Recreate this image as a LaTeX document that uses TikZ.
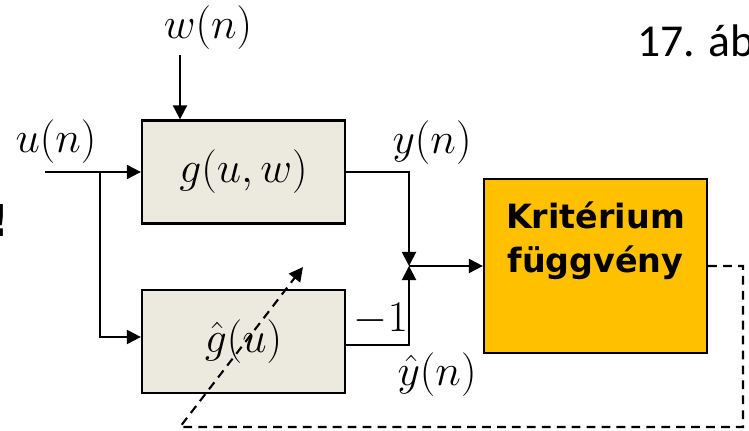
\documentclass[tikz,border=0pt]{standalone}
\usepackage{amsmath}
\usepackage{fontspec}
\newfontfamily\kritfont{DejaVu Sans}
\newfontfamily\capfont{Carlito}
\usetikzlibrary{arrows.meta, positioning}
\definecolor{boxfill}{RGB}{236,233,223}
\definecolor{kritfill}{RGB}{255,192,0}

\begin{document}
\begin{tikzpicture}[
  x=0.02cm,y=0.02cm,
  box/.style={draw, line width=1.3pt, fill=boxfill, minimum width=4.06cm, minimum height=2.06cm, font=\fontsize{23}{27}\selectfont},
  krit/.style={draw, line width=1.3pt, fill=kritfill, minimum width=4.46cm, minimum height=3.48cm},
  kritlab/.style={align=center, inner sep=0pt, font=\kritfont\bfseries\fontsize{19}{25.5}\selectfont},
  lab/.style={font=\fontsize{23}{27}\selectfont, inner sep=0pt},
  sig/.style={-{Triangle[length=8pt, width=8pt]}, line width=1.1pt},
  fb/.style={-{Triangle[length=8pt, width=8pt]}, line width=1.2pt, dash pattern=on 5pt off 3.5pt}
]
\useasboundingbox (0,0) rectangle (749,431);

% blocks
\node[box] (plant) at (243.5,259) {$g(u,w)$};
\node[box] (model) at (243.5,89.5) {$\hat{g}(u)$};
\node[krit] (krit) at (595.5,165) {};
\node[kritlab, anchor=north] (krittext) at (595.5,230) {Kritérium\\függvény};

% points
\coordinate (uin) at (45,259);
\coordinate (split) at (100,259);
\coordinate (win) at (180,376);
\coordinate (sum) at (409,165);
\coordinate (fb1) at (743,4);
\coordinate (fb2) at (180,4);
\coordinate (adj) at (303,164);

% labels
\node[lab] (ulab) at (56,289) {$u(n)$};
\node[lab] (wlab) at (208,403) {$w(n)$};
\node[lab] (ylab) at (432,288) {$y(n)$};
\node[lab] (yhlab) at (437,56) {$\hat{y}(n)$};
\node[lab, anchor=base] (mlab) at (381,99) {$-1$};
\node[font=\capfont\fontsize{26}{30}\selectfont, anchor=base west, inner sep=0pt] (fig) at (637,374) {17. áb};
\node[font=\kritfont\bfseries\fontsize{25}{30}\selectfont, anchor=base, inner sep=0pt] (excl) at (0,194) {!};

% signals
\draw[sig] (uin) -- (plant.west);
\draw[sig] (split) |- ([yshift=0.09cm]model.west);
\draw[sig] (win) -- (win |- plant.north);
\draw[sig] (plant.east) -| (sum);
\draw[sig] ([yshift=-0.07cm]model.east) -| (sum);
\draw[sig] (sum) -- (krit.west);

% feedback
\draw[fb] (krit.east) -| (fb1) -- (fb2) -- (adj);

\end{tikzpicture}
\end{document}
